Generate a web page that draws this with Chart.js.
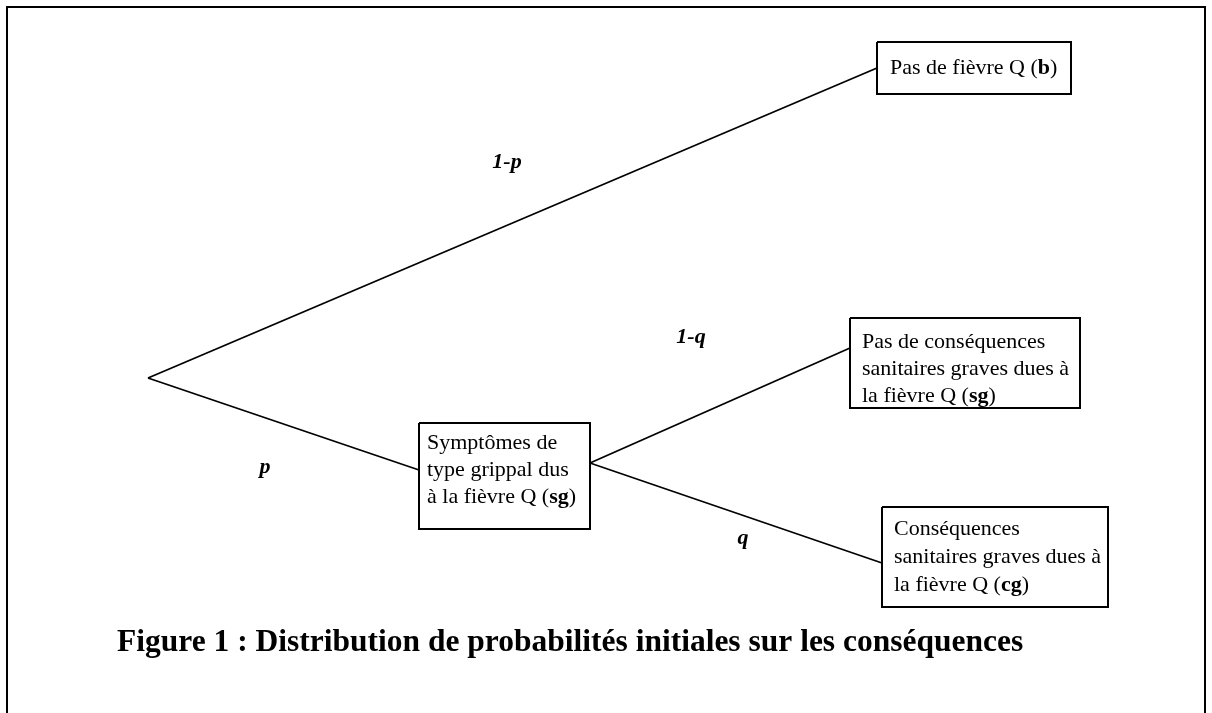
<!DOCTYPE html>
<html>
<head>
<meta charset="utf-8">
<script src="https://cdn.jsdelivr.net/npm/chart.js@4"></script>
<style>
  html, body { margin: 0; padding: 0; background: #fff; }
  #wrap { width: 1212px; height: 713px; position: relative; }
</style>
</head>
<body>
<div id="wrap"><canvas id="chart1"></canvas></div>
<script>
// arbre de décision : coordonnées dans le repère de la figure (0..1212 x 0..713)
const rootNode = [148, 378];
const sgNode = [590, 463]; // sortie droite de la boîte "Symptômes"

// extrémités des branches (point d'arrivée sur chaque boîte)
const branchStarts = [rootNode, rootNode, sgNode, sgNode];
const branchEnds = [[877, 68], [419, 470], [850, 348], [882, 563]];

// boîtes : [gauche, haut, droite, bas]
const boxRects = [
  [877, 42, 1071, 94],
  [419, 423, 590, 529],
  [850, 318, 1080, 408],
  [882, 507, 1108, 607]
];
// texte des boîtes, **gras**
const boxLines = [
  ["Pas de fièvre Q (**b**)"],
  ["Symptômes de", "type grippal dus", "à la fièvre Q (**sg**)"],
  ["Pas de conséquences", "sanitaires graves dues à", "la fièvre Q (**sg**)"],
  ["Conséquences", "sanitaires graves dues à", "la fièvre Q (**cg**)"]
];
const boxTextStart = [[890, 68], [427, 443], [862, 342], [894, 529]];
const boxLineGap = [27, 27, 27, 28];

// probabilités sur les branches
const probLabels = ["1-p", "p", "1-q", "q"];
const probPos = [[507, 162], [265, 467], [691, 337], [743, 538]];

const caption = "Figure 1 : Distribution de probabilités initiales sur les conséquences";
const captionPos = [117, 643];

// cadre (pas de bord inférieur)
const frameX = [7, 7, 1205, 1205];
const frameY = [713, 7, 7, 713];

const serif = '"Liberation Serif", "Times New Roman", serif';

function lineSet(points, width) {
  return {
    data: points,
    showLine: true,
    borderColor: '#000',
    borderWidth: width,
    pointRadius: 0,
    fill: false,
    tension: 0
  };
}

const datasets = [];
datasets.push(lineSet(frameX.map((x, i) => ({ x: x, y: frameY[i] })), 2));
branchStarts.forEach((s, i) => {
  datasets.push(lineSet([{ x: s[0], y: s[1] }, { x: branchEnds[i][0], y: branchEnds[i][1] }], 1.8));
});
boxRects.forEach(r => {
  datasets.push(lineSet([
    { x: r[0], y: r[1] }, { x: r[2], y: r[1] }, { x: r[2], y: r[3] },
    { x: r[0], y: r[3] }, { x: r[0], y: r[1] }
  ], 2));
});

function drawRich(ctx, str, x, y, size) {
  const parts = str.split('**');
  let cx = x;
  parts.forEach((p, i) => {
    ctx.font = (i % 2 ? 'bold ' : '') + size + 'px ' + serif;
    ctx.fillText(p, cx, y);
    cx += ctx.measureText(p).width;
  });
}

const textPlugin = {
  id: 'treeText',
  afterDatasetsDraw(chart) {
    const ctx = chart.ctx;
    const sx = chart.scales.x, sy = chart.scales.y;
    ctx.save();
    ctx.fillStyle = '#000';
    ctx.textBaseline = 'middle';
    ctx.textAlign = 'left';
    boxLines.forEach((lines, b) => {
      lines.forEach((ln, k) => {
        drawRich(ctx, ln, sx.getPixelForValue(boxTextStart[b][0]),
          sy.getPixelForValue(boxTextStart[b][1] + k * boxLineGap[b]), 22);
      });
    });
    ctx.textAlign = 'center';
    ctx.font = 'italic bold 22px ' + serif;
    probLabels.forEach((t, i) => {
      ctx.fillText(t, sx.getPixelForValue(probPos[i][0]), sy.getPixelForValue(probPos[i][1]));
    });
    ctx.textAlign = 'left';
    ctx.font = 'bold 31.5px ' + serif;
    ctx.fillText(caption, sx.getPixelForValue(captionPos[0]), sy.getPixelForValue(captionPos[1]));
    ctx.restore();
  }
};

new Chart(document.getElementById('chart1'), {
  type: 'scatter',
  data: { datasets: datasets },
  options: {
    responsive: true,
    maintainAspectRatio: false,
    animation: false,
    layout: { padding: 0 },
    plugins: { legend: { display: false }, tooltip: { enabled: false } },
    scales: {
      x: { type: 'linear', min: 0, max: 1212, display: false },
      y: { type: 'linear', min: 0, max: 713, reverse: true, display: false }
    }
  },
  plugins: [textPlugin]
});
</script>
</body>
</html>
